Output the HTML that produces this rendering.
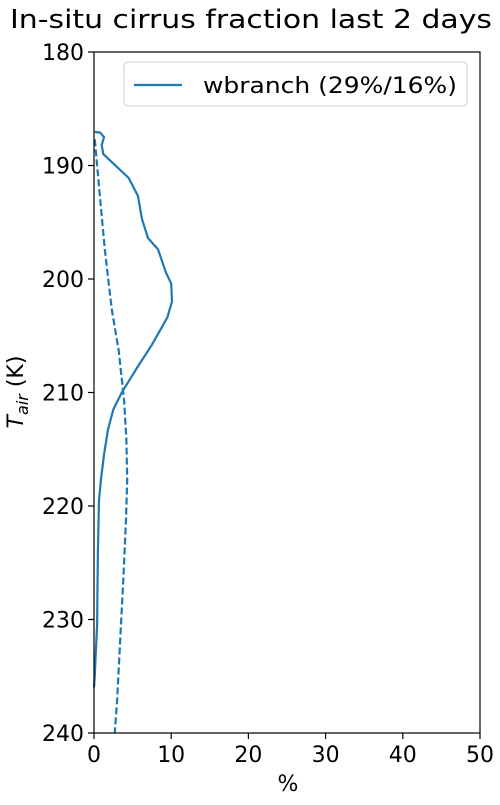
<!DOCTYPE html>
<html><head><meta charset="utf-8"><style>
body{margin:0;background:#fff}
svg{font-family:"DejaVu Sans","Liberation Sans",sans-serif}
</style></head><body>
<svg id="chart" width="500" height="800" viewBox="0 0 500 800" xmlns="http://www.w3.org/2000/svg">
<text x="251" y="28" font-size="26" text-anchor="middle" textLength="482" lengthAdjust="spacingAndGlyphs">In-situ cirrus fraction last 2 days</text>
<g id="plot"></g>
</svg>
<script>
const xTicks=[0,10,20,30,40,50];
const yTicks=[180,190,200,210,220,230,240];
const solidT=[187.05,187.1,187.5,188.2,189.0,191.1,192.7,194.7,196.4,197.4,199.4,200.4,202,203.4,205.8,207.8,210,211.5,213.3,215.5,217.7,219.5,224,230.5,232.7,234.9,236];
const solidV=[0.1,0.8,1.3,1.0,1.2,4.5,5.7,6.2,7.0,8.3,9.3,10.0,10.1,9.5,7.5,5.6,3.6,2.5,1.8,1.3,0.9,0.65,0.5,0.4,0.25,0.1,0];
const dashT=[187.7,193,197.4,202.7,206.3,210.7,214.2,217.7,221.2,226.5,231.8,237,240];
const dashV=[0.1,0.8,1.4,2.3,3.2,3.9,4.2,4.3,4.15,3.8,3.4,3.0,2.7];
const X0=94,X1=480,Y0=52,Y1=733;
const xs=v=>X0+(v-0)/(50-0)*(X1-X0);
const ys=t=>Y0+(t-180)/(240-180)*(Y1-Y0);
const NS='http://www.w3.org/2000/svg';
const g=document.getElementById('plot');
function mk(tag,attrs){const e=document.createElementNS(NS,tag);for(const k in attrs)e.setAttribute(k,attrs[k]);g.appendChild(e);return e;}
xTicks.forEach(v=>{
 const l=mk('line',{x1:xs(v),x2:xs(v),y1:Y1,y2:Y1+6,stroke:'#000','stroke-width':1.2});
 
 
 const t=mk('text',{x:xs(v),y:Y1+29,'font-size':22,'text-anchor':'middle'});t.textContent=v;
 
 
});
yTicks.forEach(v=>{
 const l=mk('line',{x1:X0-6,x2:X0,y1:ys(v),y2:ys(v),stroke:'#000','stroke-width':1.2});
 
 
 const t=mk('text',{x:X0-10,y:ys(v)+8,'font-size':22,'text-anchor':'end'});t.textContent=v;
 
 
});
function pts(T,V){return T.map((t,i)=>xs(V[i]).toFixed(1)+','+ys(t).toFixed(1)).join(' ');}
const s=mk('polyline',{points:pts(solidT,solidV),fill:'none',stroke:'#1f77b4','stroke-width':2.2});


const d=mk('polyline',{points:pts(dashT,dashV),fill:'none',stroke:'#1f77b4','stroke-width':2.2,'stroke-dasharray':'7,3'});


const f=mk('rect',{x:X0,y:Y0,width:X1-X0,height:Y1-Y0,fill:'none',stroke:'#000','stroke-width':1.2});


const xl=mk('text',{x:288,y:791,'font-size':22,'text-anchor':'middle'});xl.textContent='%';


const yl=mk('text',{x:0,y:0,'font-size':22,'text-anchor':'middle',transform:'translate(23,392) rotate(-90)'});
yl.innerHTML='<tspan font-style="italic">T</tspan><tspan font-style="italic" font-size="16" dy="5">air</tspan><tspan dy="-5"> (K)</tspan>';


const lb=mk('rect',{x:124,y:62,width:343,height:44,rx:4,fill:'#fff',stroke:'#ccc','stroke-width':1});


const ll=mk('line',{x1:134,x2:182,y1:85,y2:85,stroke:'#1f77b4','stroke-width':2.2});


const lt=mk('text',{x:203,y:93,'font-size':22,textLength:254,lengthAdjust:'spacingAndGlyphs'});lt.textContent='wbranch (29%/16%)';


</script>
</body></html>
